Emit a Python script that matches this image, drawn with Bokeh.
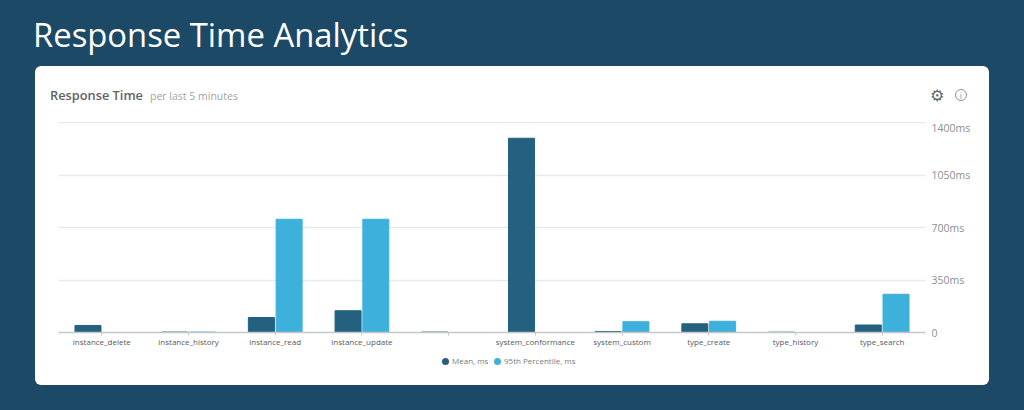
from bokeh.plotting import figure
from bokeh.layouts import column
from bokeh.models import (FactorRange, Range1d, Div,
                          FixedTicker, ColumnDataSource, CustomJSTickFormatter)
from bokeh.transform import dodge
from bokeh.embed import file_html
from bokeh.resources import INLINE

categories = ["instance_delete", "instance_history", "instance_read", "instance_update", " ",
              "system_conformance", "system_custom", "type_create", "type_history", "type_search"]
mean_ms = [47, 3, 100, 145, 3, 1295, 7, 58, 2, 50]
p95_ms = [0, 3, 755, 755, 0, 0, 72, 75, 0, 255]
y_ticks = [0, 350, 700, 1050, 1400]

BG = "#1c4966"
DARK = "#24607f"
LIGHT = "#3eb0dc"

p = figure(width=954, height=230, output_backend="svg", toolbar_location=None,
           x_range=FactorRange(factors=categories, range_padding=0, group_padding=0),
           y_range=Range1d(0, 1406.67), y_axis_location="right",
           min_border_left=23, min_border_right=64, min_border_top=1, min_border_bottom=18,
           margin=0)
p.border_fill_color = None
p.background_fill_color = None
p.outline_line_color = None

src = ColumnDataSource(dict(cat=categories, mean=mean_ms, p95=p95_ms))
r1 = p.vbar(x=dodge("cat", -0.16, range=p.x_range), top="mean", width=0.3, source=src, color=DARK)
r2 = p.vbar(x=dodge("cat", 0.16, range=p.x_range), top="p95", width=0.3, source=src, color=LIGHT)

p.xgrid.visible = False
p.ygrid.grid_line_color = "#e4ebee"
p.ygrid.grid_line_width = 1.5
p.yaxis.ticker = FixedTicker(ticks=y_ticks)
p.yaxis.formatter = CustomJSTickFormatter(code="return tick == 0 ? '0' : tick + 'ms'")
p.yaxis.axis_line_color = None
p.yaxis.major_tick_line_color = None
p.yaxis.major_tick_out = 0
p.yaxis.minor_tick_line_color = None
p.yaxis.major_label_standoff = 6
p.yaxis.major_label_text_font = "Open Sans"
p.yaxis.major_label_text_font_size = "10.5px"
p.yaxis.major_label_text_color = "#8a8f93"
p.xaxis.axis_line_color = "#c4c8ca"
p.xaxis.axis_line_width = 1.5
p.xaxis.major_tick_line_color = "#c4c8ca"
p.xaxis.major_tick_in = 0
p.xaxis.major_tick_out = 3
p.xaxis.minor_tick_line_color = None
p.xaxis.major_label_standoff = 0
p.xaxis.major_label_text_font = "Open Sans"
p.xaxis.major_label_text_font_size = "8px"
p.xaxis.major_label_text_color = "#55595c"
p.xaxis.major_label_orientation = "horizontal"

header_html = (
    '<span style="position:absolute;left:15px;top:20px;font:600 12.8px \'Open Sans\';color:#5f6366">Response Time</span>'
    '<span style="position:absolute;left:115px;top:23px;font:10.5px \'Open Sans\';color:#a0a4a7">per last 5 minutes</span>'
    '<span style="position:absolute;left:895px;top:20px;font:16px \'DejaVu Sans\';color:#62676a">\u2699</span>'
    '<span style="position:absolute;left:920px;top:23px;width:12px;height:12px;border:1.2px solid #8d9194;border-radius:50%;'
    'text-align:center;font:9px/12px \'Open Sans\';color:#8d9194">i</span>'
)
header = Div(text=header_html, width=954, height=54, margin=0, styles={"position": "relative"})

def legend_entry(x, color, label):
    return (f'<span style="position:absolute;left:{x}px;top:8px;width:7px;height:7px;border-radius:50%;background:{color}"></span>'
            f'<span style="position:absolute;left:{x + 10}px;top:5px;font:8px/12px \'Open Sans\';color:#777b7e;white-space:nowrap">{label}</span>')

footer = Div(text=legend_entry(407, DARK, "Mean, ms") + legend_entry(459, LIGHT, "95th Percentile, ms"),
             width=954, height=35, margin=0, styles={"position": "relative"})
card = column(header, p, footer, width=954, height=319, spacing=0, margin=(0, 0, 0, 35),
              styles={"background-color": "white", "border-radius": "6px"})

heading = Div(text="Response Time Analytics", width=700, height=66, margin=(0, 0, 0, 33),
              styles={"color": "white", "font-family": "Open Sans", "font-size": "32.8px", "line-height": "70px"})
page = column(heading, card, width=1024, height=410, spacing=0, styles={"background-color": BG})

open("out.html", "w").write(file_html(page, INLINE))
